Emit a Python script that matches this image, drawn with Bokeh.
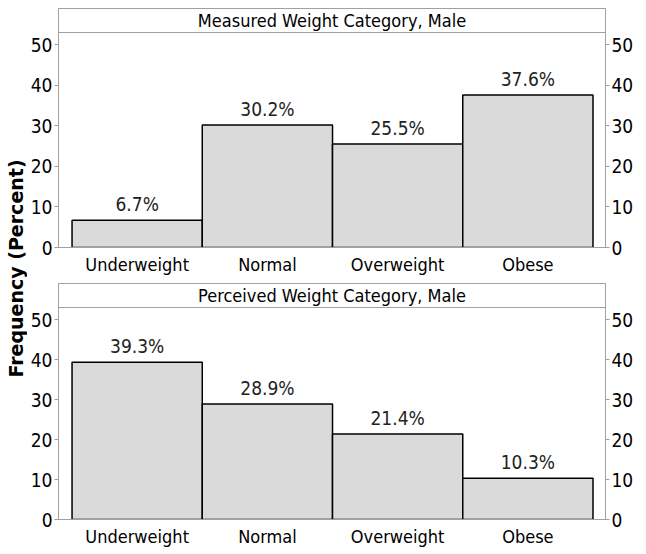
import math
from bokeh.plotting import figure
from bokeh.models import Range1d, FixedTicker, LinearAxis, Span, Label, ColumnDataSource
from bokeh.layouts import row, column
from bokeh.core.properties import value
from bokeh.embed import file_html
from bokeh.resources import INLINE

categories = ["Underweight", "Normal", "Overweight", "Obese"]
measured = [6.7, 30.2, 25.5, 37.6]
perceived = [39.3, 28.9, 21.4, 10.3]
titles = ["Measured Weight Category, Male", "Perceived Weight Category, Male"]
y_ticks = [0, 10, 20, 30, 40, 50]

FONT = "Noto Sans Condensed, DejaVu Sans Condensed, Roboto"
GRAY = "#a0a0a0"
HEADER = 53.0
HEADER_PX = 24
X0, X1 = 0.396, 4.596
FRAME_W = 547


def panel(vals, title, top_border, frame_h, bottom_border):
    xs = list(range(1, len(categories) + 1))
    ppu = (frame_h - HEADER_PX) / HEADER
    ytop = HEADER + HEADER_PX / ppu
    p = figure(frame_width=FRAME_W, frame_height=frame_h,
               x_range=Range1d(X0, X1), y_range=Range1d(0, ytop),
               output_backend="svg", toolbar_location=None, tools="",
               min_border_left=31, min_border_right=25,
               min_border_top=top_border, min_border_bottom=bottom_border)
    p.xgrid.visible = False
    p.ygrid.visible = False
    p.outline_line_color = GRAY
    p.outline_line_width = 1
    p.background_fill_color = "white"
    p.border_fill_color = "white"

    src = ColumnDataSource(dict(x=xs, top=vals,
                                lbl=[f"{v:.1f}%" for v in vals]))
    p.vbar(x="x", top="top", width=1.0, bottom=0, source=src,
           fill_color="#dadada", line_color="black", line_width=1.5)
    p.text(x="x", y="top", text="lbl", source=src, text_align="center",
           text_baseline="bottom", y_offset=-5, text_font=value(FONT),
           text_font_size="19px", text_color="#222222")

    # header box
    p.add_layout(Span(location=HEADER, dimension="width", line_color=GRAY, line_width=1))
    p.add_layout(Label(x=(X0 + X1) / 2, y=(HEADER + ytop) / 2, text=title,
                       text_align="center", text_baseline="middle",
                       text_font=FONT, text_font_size="18px", text_color="black"))

    # x axis
    xa = p.xaxis[0]
    xa.ticker = FixedTicker(ticks=xs)
    xa.major_label_overrides = {i + 1: c for i, c in enumerate(categories)}
    xa.major_tick_line_color = None
    xa.minor_tick_line_color = None
    xa.axis_line_color = GRAY
    xa.major_label_text_font = FONT
    xa.major_label_text_font_size = "18px"
    xa.major_label_text_color = "black"
    xa.major_label_standoff = 0

    # y axes
    ya = p.yaxis[0]
    ra = LinearAxis()
    p.add_layout(ra, "right")
    for a in (ya, ra):
        a.ticker = FixedTicker(ticks=y_ticks)
        a.axis_line_color = GRAY
        a.major_tick_line_color = GRAY
        a.major_tick_out = 4
        a.major_tick_in = 0
        a.minor_tick_line_color = None
        a.major_label_text_font = FONT
        a.major_label_text_font_size = "19px"
        a.major_label_text_color = "black"
        a.major_label_standoff = 2
    return p


p1 = panel(measured, titles[0], 8, 239, 27)
p2 = panel(perceived, titles[1], 6, 236, 22)

H = 538
LW = 27
lab = figure(width=LW, height=H, x_range=Range1d(0, 1), y_range=Range1d(0, 1),
             output_backend="svg", toolbar_location=None, tools="",
             min_border_left=0, min_border_right=0, min_border_top=0, min_border_bottom=0)
lab.axis.visible = False
lab.grid.visible = False
lab.outline_line_color = None
lab.add_layout(Label(x=15 / LW, y=1 - 268 / H, text="Frequency (Percent)",
                     angle=math.pi / 2, text_align="center", text_baseline="middle",
                     text_font="DejaVu Sans", text_font_style="bold",
                     text_font_size="19px", text_color="black"))

layout = row(lab, column(p1, p2, spacing=0), spacing=0)

open("out.html", "w").write(file_html(layout, INLINE))
